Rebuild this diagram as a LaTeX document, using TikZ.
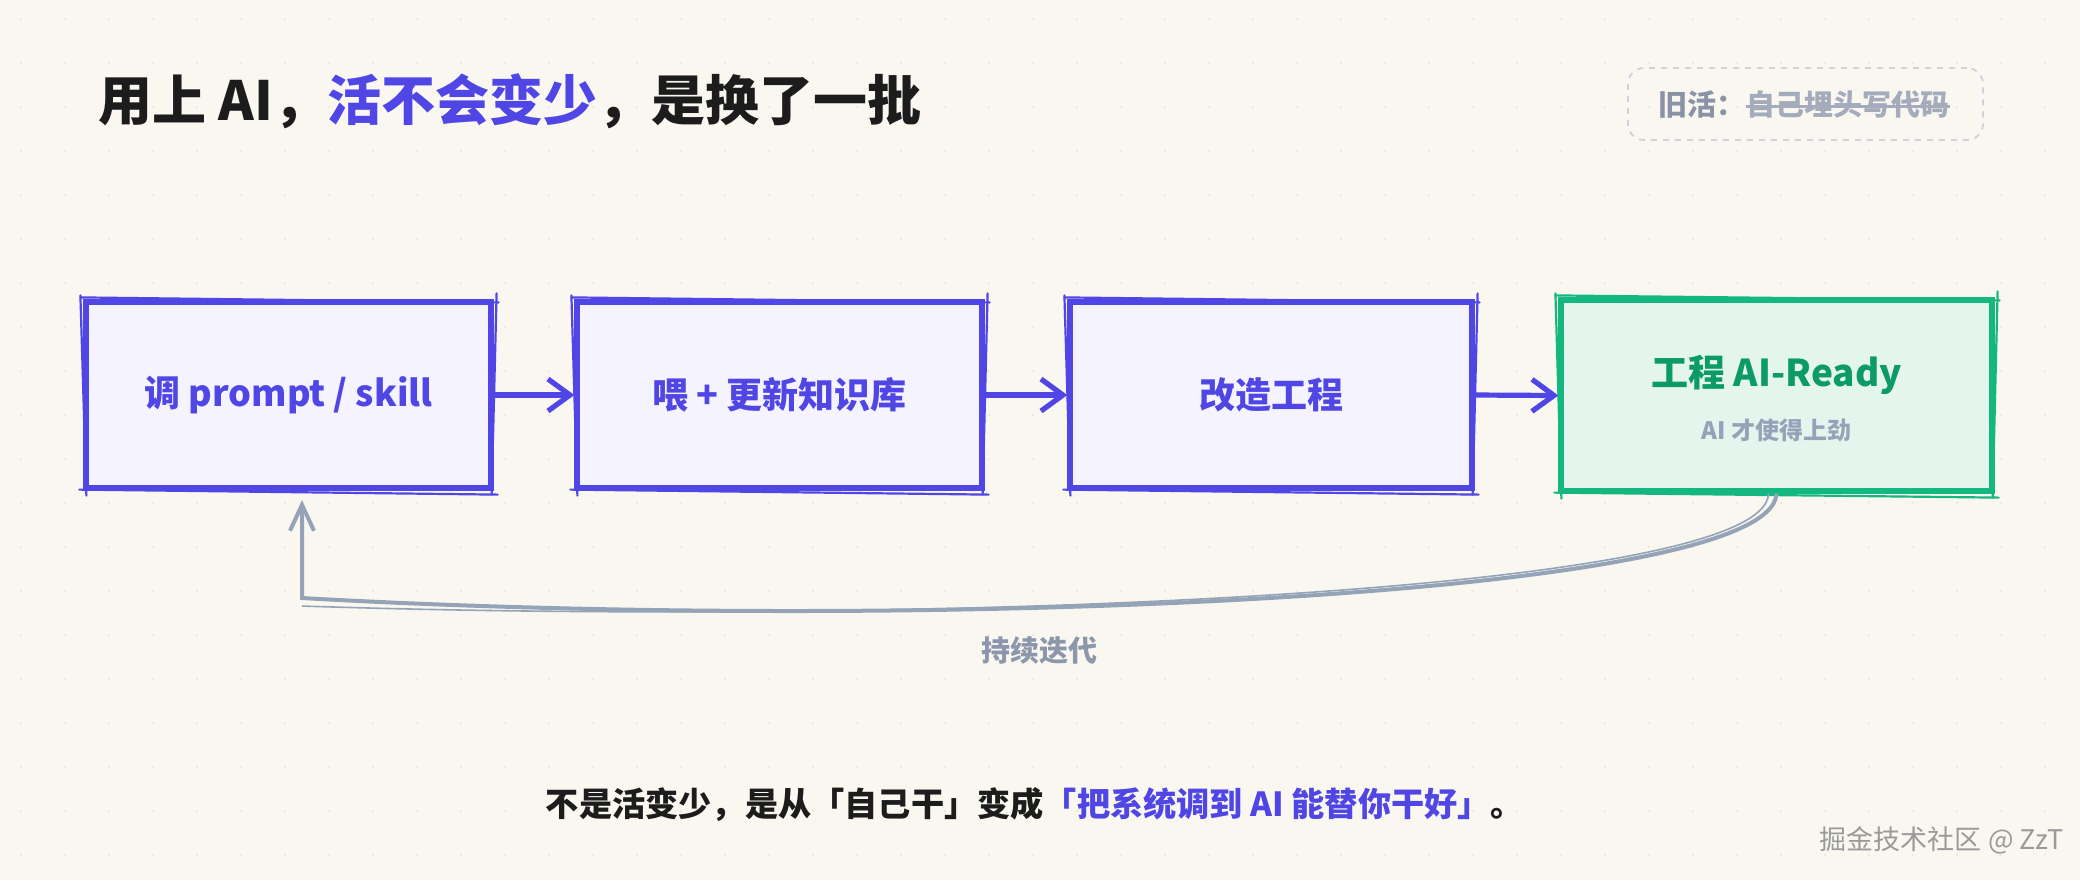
\documentclass[tikz,border=0pt]{standalone}
\usepackage{fontspec}
\setmainfont{Noto Sans CJK SC}
\usetikzlibrary{arrows.meta}
\definecolor{bg}{HTML}{F9F7F0}
\definecolor{dotc}{HTML}{ECE9E0}
\definecolor{ink}{HTML}{1C1C1C}
\definecolor{pur}{HTML}{4F46E5}
\definecolor{pfill}{HTML}{F4F3FE}
\definecolor{grn}{HTML}{14B77F}
\definecolor{gfill}{HTML}{E3F5EC}
\definecolor{gtext}{HTML}{0C9A69}
\definecolor{loopc}{HTML}{94A3B8}
\definecolor{labc}{HTML}{8C97AB}
\definecolor{tagb}{HTML}{CDD2DC}
\definecolor{tagdark}{HTML}{8A93A6}
\definecolor{taglight}{HTML}{A4ABBB}
\definecolor{wmc}{HTML}{9A9A9A}
\newcommand\roughbox[2]{%
 \draw[#2,line width=1.1pt,line cap=round] ([shift={(-3,-2)}]#1.north west) -- ([shift={(5,3)}]#1.north east);
 \draw[#2,line width=1.1pt,line cap=round] ([shift={(3,-6)}]#1.north east) -- ([shift={(-2,4)}]#1.south east);
 \draw[#2,line width=1.1pt,line cap=round] ([shift={(4,4)}]#1.south east) -- ([shift={(-4,-1)}]#1.south west);
 \draw[#2,line width=1.1pt,line cap=round] ([shift={(3,5)}]#1.south west) -- ([shift={(-3,-4)}]#1.north west);
}
\tikzset{
 pbox/.style={draw=pur,fill=pfill,line width=2.6pt,minimum width=202.5pt,minimum height=93pt,
   text=pur,font=\fontsize{18}{21}\selectfont\bfseries,inner sep=0pt},
 gbox/.style={draw=grn,fill=gfill,line width=2.6pt,minimum width=215.5pt,minimum height=95.5pt,inner sep=0pt},
 parr/.style={draw=pur,line width=2.6pt,-{Straight Barb[length=11pt,width=16pt,line width=2.6pt]}},
 larr/.style={draw=loopc,line width=2pt,-{Straight Barb[length=13pt,width=12pt,line width=2pt]}},
 tagbox/.style={draw=tagb,dashed,line width=0.9pt,rounded corners=8pt,minimum width=177.5pt,minimum height=36pt},
 tagtxt/.style={font=\fontsize{14.5}{17}\selectfont\bfseries,inner sep=0pt,anchor=west},
}
\begin{document}
\begin{tikzpicture}[x=0.5pt,y=-0.5pt]
\fill[bg] (0,0) rectangle (2080,880);
\useasboundingbox (0,0) rectangle (2080,880);
\foreach \x in {21,65,...,2080} \foreach \y in {19,63,...,880} \fill[dotc] (\x,\y) circle[radius=1.4];

% title
\node[anchor=west,inner sep=0pt,font=\fontsize{27}{31}\selectfont\bfseries,text=ink] (title) at (98,101)
  {用上 AI，\textcolor{pur}{活不会变少}，是换了一批};

% tag
\node[tagbox] (tag) at (1805.5,104) {};
\node[tagtxt,text=tagdark] (tagk) at (1658,104) {旧活：};
\node[tagtxt,text=taglight] (tago) at (tagk.east) {自己埋头写代码};
\draw[taglight,line width=1.5pt] ([yshift=-1]tago.west) -- ([yshift=-1]tago.east);

% boxes
\node[pbox] (b1) at (288.5,395) {调 prompt / skill};
\node[pbox] (b2) at (779.5,395) {喂 + 更新知识库};
\node[pbox,minimum width=201pt] (b3) at (1271,395) {改造工程};
\node[gbox] (b4) at (1776.5,395.5) {};
\roughbox{b1}{pur}
\roughbox{b2}{pur}
\roughbox{b3}{pur}
\roughbox{b4}{grn}
\node[text=gtext,font=\fontsize{18.5}{21}\selectfont\bfseries,inner sep=0pt] (b4t) at (1776.5,375) {工程 AI-Ready};
\node[text=loopc,font=\fontsize{12}{14}\selectfont\bfseries,inner sep=0pt] (b4s) at (1776.5,430) {AI 才使得上劲};

% arrows
\draw[parr] (b1.east) -- (b2.west);
\draw[parr] (b2.east) -- (b3.west);
\draw[parr] (b3.east) -- (b4.west);

% loop
\coordinate (lc) at (302,598);
\coordinate (lt) at (302,488);
\draw[larr,shorten >=6pt] (b4.south) .. controls (1772,600) and (900,632) .. (lc) -- (lt);
\draw[loopc,line width=0.8pt] ([xshift=-4]b4.south) .. controls (1766,596) and (900,626) .. ([yshift=-4]lc);
\node[text=labc,font=\fontsize{14.5}{17}\selectfont\bfseries,inner sep=0pt] (lab) at (1039,650) {持续迭代};

% bottom line
\node[font=\fontsize{16.6}{19}\selectfont\bfseries,text=ink,inner sep=0pt] (bot) at (1035,805)
  {不是活变少，是从「自己干」变成\textcolor{pur}{「把系统调到 AI 能替你干好」}。};

% watermark
\node[font=\fontsize{13.5}{16}\selectfont,text=wmc,inner sep=0pt] (wm) at (1942,840) {掘金技术社区 @ ZzT};
\end{tikzpicture}
\end{document}
